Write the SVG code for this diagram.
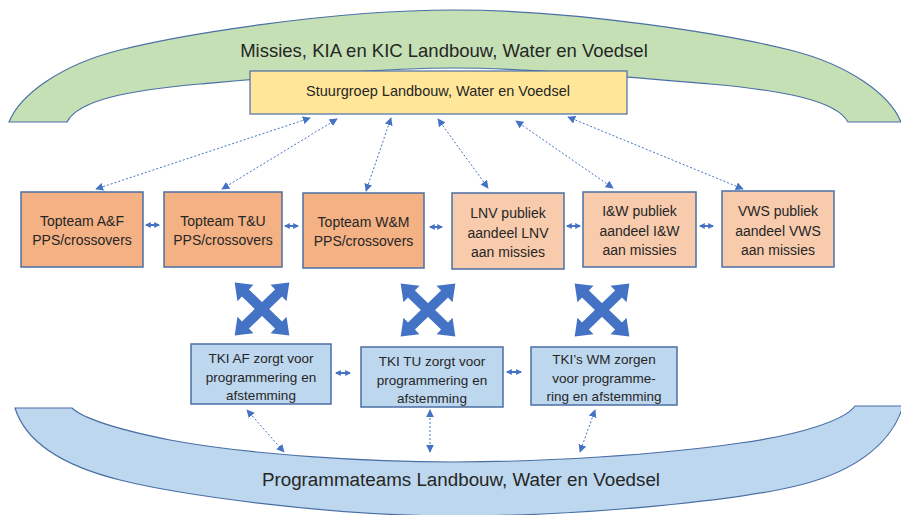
<svg xmlns="http://www.w3.org/2000/svg" width="901" height="515" viewBox="0 0 901 515">
<defs>
<style>
.t{font-family:"Liberation Sans",Arial,sans-serif;fill:#262626;text-anchor:middle}
.box{stroke:#4A6FA5;stroke-width:1.5}
.dark{fill:#F4B183}
.light{fill:#F8CBAD}
.tki{fill:#BDD7EE}
.dot{stroke:#4472C4;stroke-width:1;stroke-dasharray:2 2;fill:none;marker-start:url(#ah);marker-end:url(#ah)}
.sm{stroke:#4472C4;stroke-width:2;fill:none;marker-start:url(#sh);marker-end:url(#sh)}
.big{fill:#4472C4}
</style>
<marker id="ah" viewBox="0 0 10 10" refX="9" refY="5" markerWidth="8" markerHeight="8" markerUnits="userSpaceOnUse" orient="auto-start-reverse">
<path d="M0,0 L10,5 L0,10 z" fill="#4472C4"/>
</marker>
<marker id="sh" viewBox="0 0 10 10" refX="8" refY="5" markerWidth="6" markerHeight="6" markerUnits="userSpaceOnUse" orient="auto-start-reverse">
<path d="M0,0 L10,5 L0,10 z" fill="#4472C4"/>
</marker>
<polygon id="dbl" points="-38,0 -23,-11.5 -23,-5 23,-5 23,-11.5 38,0 23,11.5 23,5 -23,5 -23,11.5"/>
</defs>
<rect width="901" height="515" fill="#fff"/>

<g id="missies">
<path d="M9,122 C20,95 60,65 120,50 C180,35 330,10 454,10 C580,10 730,35 790,50 C850,65 890,95 901,122 L848,122 C836,100 780,90 710,84 C640,78 530,68 454,68 C380,68 270,78 200,84 C130,90 78,100 67,122 Z" fill="#C5E0B4" stroke="#4A6FA5" stroke-width="1.2"/>
<text class="t" x="444" y="57" font-size="18.5">Missies, KIA en KIC Landbouw, Water en Voedsel</text>
</g>

<g id="programmateams">
<path d="M15,408 C25,440 60,465 120,480 C180,495 330,516 454,516 C590,516 740,500 800,485 C860,470 893,440 903,406 L855,406 C845,420 800,435 740,443 C660,455 540,462 454,462 C370,462 250,455 170,440 C120,430 85,420 72,408 Z" fill="#BDD7EE" stroke="#4A6FA5" stroke-width="1.2"/>
<text class="t" x="461" y="486" font-size="18.8">Programmateams Landbouw, Water en Voedsel</text>
</g>

<g id="stuurgroep">
<rect x="250" y="71" width="377" height="43" fill="#FFE699" stroke="#4A6FA5" stroke-width="1.2"/>
<text class="t" x="438" y="96" font-size="14.5">Stuurgroep Landbouw, Water en Voedsel</text>
</g>

<g id="topteam-af">
<rect class="box dark" x="21" y="192" width="122" height="75"/>
<text class="t" x="82" y="226" font-size="14">Topteam A&amp;F</text>
<text class="t" x="82" y="245" font-size="14">PPS/crossovers</text>
</g>
<g id="topteam-tu">
<rect class="box dark" x="164" y="192" width="118" height="75"/>
<text class="t" x="223" y="226" font-size="14">Topteam T&amp;U</text>
<text class="t" x="223" y="245" font-size="14">PPS/crossovers</text>
</g>
<g id="topteam-wm">
<rect class="box dark" x="303" y="193" width="121" height="75"/>
<text class="t" x="363.5" y="227" font-size="14">Topteam W&amp;M</text>
<text class="t" x="363.5" y="246" font-size="14">PPS/crossovers</text>
</g>
<g id="lnv">
<rect class="box light" x="452" y="193" width="112" height="76"/>
<text class="t" x="508" y="218" font-size="14">LNV publiek</text>
<text class="t" x="508" y="238" font-size="14">aandeel  LNV</text>
<text class="t" x="508" y="257" font-size="14">aan missies</text>
</g>
<g id="iw">
<rect class="box light" x="583" y="192" width="113" height="75"/>
<text class="t" x="639.5" y="216" font-size="14">I&amp;W publiek</text>
<text class="t" x="639.5" y="236" font-size="14">aandeel  I&amp;W</text>
<text class="t" x="639.5" y="255" font-size="14">aan missies</text>
</g>
<g id="vws">
<rect class="box light" x="722" y="191" width="112" height="76"/>
<text class="t" x="778" y="216" font-size="14">VWS publiek</text>
<text class="t" x="778" y="236" font-size="14">aandeel VWS</text>
<text class="t" x="778" y="255" font-size="14">aan missies</text>
</g>

<g id="tki-af">
<rect class="box tki" x="191" y="344" width="140" height="60"/>
<text class="t" x="261" y="363" font-size="13.5">TKI AF zorgt voor</text>
<text class="t" x="261" y="382" font-size="13.5">programmering  en</text>
<text class="t" x="261" y="400" font-size="13.5">afstemming</text>
</g>
<g id="tki-tu">
<rect class="box tki" x="361" y="347" width="142" height="60"/>
<text class="t" x="432" y="366" font-size="13.5">TKI TU zorgt voor</text>
<text class="t" x="432" y="385" font-size="13.5">programmering  en</text>
<text class="t" x="432" y="403" font-size="13.5">afstemming</text>
</g>
<g id="tki-wm">
<rect class="box tki" x="531" y="347" width="146" height="58"/>
<text class="t" x="604" y="364" font-size="13.5">TKI’s WM zorgen</text>
<text class="t" x="604" y="383" font-size="13.5">voor programme-</text>
<text class="t" x="604" y="401" font-size="13.5">ring en afstemming</text>
</g>

<g id="connectors">
<line class="dot" x1="310" y1="118" x2="96" y2="189"/>
<line class="dot" x1="337" y1="119" x2="222" y2="189"/>
<line class="dot" x1="391" y1="118" x2="366" y2="191"/>
<line class="dot" x1="438" y1="119" x2="488" y2="188"/>
<line class="dot" x1="516" y1="121" x2="613" y2="188"/>
<line class="dot" x1="568" y1="117" x2="743" y2="189"/>

<line class="sm" x1="146" y1="225" x2="159" y2="225"/>
<line class="sm" x1="285" y1="226" x2="298" y2="226"/>
<line class="sm" x1="430" y1="227" x2="442" y2="227"/>
<line class="sm" x1="567" y1="226" x2="580" y2="226"/>
<line class="sm" x1="700" y1="226" x2="713" y2="226"/>
<line class="sm" x1="336" y1="373" x2="350" y2="373"/>
<line class="sm" x1="507" y1="372" x2="521" y2="372"/>

<g class="big" transform="translate(262,309)"><use href="#dbl" transform="rotate(44)"/><use href="#dbl" transform="rotate(-44)"/></g>
<g class="big" transform="translate(428,310)"><use href="#dbl" transform="rotate(44)"/><use href="#dbl" transform="rotate(-44)"/></g>
<g class="big" transform="translate(602,310)"><use href="#dbl" transform="rotate(44)"/><use href="#dbl" transform="rotate(-44)"/></g>

<line class="dot" x1="247" y1="410" x2="284" y2="452"/>
<line class="dot" x1="430" y1="410" x2="430" y2="452"/>
<line class="dot" x1="595" y1="410" x2="580" y2="452"/>
</g>
</svg>
